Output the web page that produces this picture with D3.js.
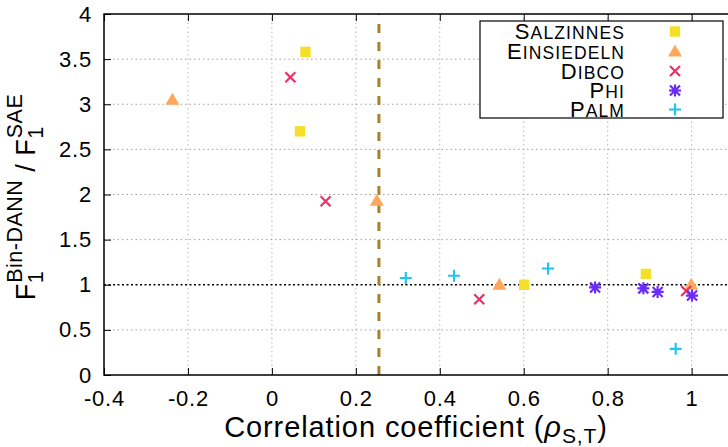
<!DOCTYPE html>
<html>
<head>
<meta charset="utf-8">
<script src="https://cdn.jsdelivr.net/npm/d3@7"></script>
<style>
  body { margin: 0; background: #fff; }
  svg { display: block; font-family: "Liberation Sans", Arial, sans-serif; }
</style>
</head>
<body>
<svg id="chart" width="728" height="447"></svg>
<script>
// values
const xTicks = [-0.4, -0.2, 0, 0.2, 0.4, 0.6, 0.8, 1];
const yTicks = [0, 0.5, 1, 1.5, 2, 2.5, 3, 3.5, 4];

const salzinnesX = [0.080, 0.067, 0.601, 0.891];
const salzinnesY = [3.58, 2.70, 1.00, 1.12];
const einsiedelnX = [-0.237, 0.250, 0.542, 0.999];
const einsiedelnY = [3.05, 1.93, 1.00, 1.00];
const dibcoX = [0.044, 0.128, 0.494, 0.987];
const dibcoY = [3.30, 1.925, 0.84, 0.93];
const phiX = [0.770, 0.885, 0.919, 1.001];
const phiY = [0.97, 0.96, 0.92, 0.88];
const palmX = [0.319, 0.434, 0.658, 0.962];
const palmY = [1.075, 1.10, 1.18, 0.29];

const thresholdX = 0.255;
const refY = 1;

const series = [
  { name: "Salzinnes", xs: salzinnesX, ys: salzinnesY, color: "#f4e02a", shape: "square" },
  { name: "Einsiedeln", xs: einsiedelnX, ys: einsiedelnY, color: "#ffa75a", shape: "triangle" },
  { name: "Dibco", xs: dibcoX, ys: dibcoY, color: "#e8326a", shape: "cross" },
  { name: "Phi", xs: phiX, ys: phiY, color: "#6a2af8", shape: "star" },
  { name: "Palm", xs: palmX, ys: palmY, color: "#22c4f2", shape: "plus" }
];

const x = d3.scaleLinear().domain([-0.4, 1.1]).range([104, 733.6]);
const y = d3.scaleLinear().domain([0, 4]).range([375, 14]);

const svg = d3.select("#chart");

// grid
svg.append("g")
  .selectAll("line")
  .data(xTicks.slice(1))
  .join("line")
  .attr("x1", d => x(d)).attr("x2", d => x(d))
  .attr("y1", y(0)).attr("y2", y(4))
  .attr("stroke", "#b8b8b8").attr("stroke-width", 1)
  .attr("stroke-dasharray", "1.5,3");

svg.append("g")
  .selectAll("line")
  .data(yTicks.slice(1, -1).filter(d => d !== refY))
  .join("line")
  .attr("x1", x(-0.4)).attr("x2", x(1.1))
  .attr("y1", d => y(d)).attr("y2", d => y(d))
  .attr("stroke", "#a0a0a0").attr("stroke-width", 1)
  .attr("stroke-dasharray", "1.5,3");

// y = 1 reference line
svg.append("line")
  .attr("x1", x(-0.4)).attr("x2", x(1.1))
  .attr("y1", y(refY)).attr("y2", y(refY))
  .attr("stroke", "#000").attr("stroke-width", 1.5)
  .attr("stroke-dasharray", "2,2.5");

// threshold line
svg.append("line")
  .attr("x1", x(thresholdX)).attr("x2", x(thresholdX))
  .attr("y1", y(0)).attr("y2", y(4))
  .attr("stroke", "#a4822a").attr("stroke-width", 3)
  .attr("stroke-dasharray", "9,9");

// axes (ticks inward, mirrored)
const xAxisBottom = svg.append("g")
  .attr("transform", `translate(0,${y(0)})`)
  .call(d3.axisBottom(x).tickValues(xTicks).tickSize(-7).tickPadding(15)
    .tickFormat(d => d3.format("")(d).replace("−", "-")));
xAxisBottom.select(".domain").remove();

const xAxisTop = svg.append("g")
  .attr("transform", `translate(0,${y(4)})`)
  .call(d3.axisTop(x).tickValues(xTicks).tickSize(-7).tickFormat(""));
xAxisTop.select(".domain").remove();

const yAxisLeft = svg.append("g")
  .attr("transform", `translate(${x(-0.4)},0)`)
  .call(d3.axisLeft(y).tickValues(yTicks).tickSize(-7).tickPadding(12)
    .tickFormat(d3.format("")));
yAxisLeft.select(".domain").remove();

svg.selectAll(".tick text")
  .attr("font-family", "Liberation Sans, Arial, sans-serif")
  .attr("font-size", 22)
  .attr("letter-spacing", 0.8)
  .attr("fill", "#000");
svg.selectAll(".tick line").attr("stroke", "#000");

// border
svg.append("rect")
  .attr("x", x(-0.4)).attr("y", y(4))
  .attr("width", x(1.1) - x(-0.4)).attr("height", y(0) - y(4))
  .attr("fill", "none").attr("stroke", "#000").attr("stroke-width", 1.5);

// markers
function drawMarker(g, shape, color) {
  if (shape === "square") {
    g.append("rect").attr("x", -5.2).attr("y", -5.2).attr("width", 10.4).attr("height", 10.4)
      .attr("fill", color);
  } else if (shape === "triangle") {
    g.append("path").attr("d", "M0,-7L7,5L-7,5Z").attr("fill", color);
  } else {
    const r = shape === "plus" ? 6 : 5;
    let d = "";
    if (shape === "cross" || shape === "star") d += `M${-r},${-r}L${r},${r}M${-r},${r}L${r},${-r}`;
    if (shape === "plus" || shape === "star") {
      const p = shape === "star" ? r + 1 : r;
      d += `M${-p},0L${p},0M0,${-p}L0,${p}`;
    }
    g.append("path").attr("d", d).attr("stroke", color).attr("stroke-width", 2.2).attr("fill", "none");
  }
}

series.forEach(s => {
  const pts = s.xs.map((v, i) => [v, s.ys[i]]);
  svg.append("g")
    .selectAll("g")
    .data(pts)
    .join("g")
    .attr("transform", d => `translate(${x(d[0])},${y(d[1])})`)
    .each(function () { drawMarker(d3.select(this), s.shape, s.color); });
});

// legend
const legend = svg.append("g");
legend.append("rect")
  .attr("x", 480).attr("y", 21).attr("width", 243).attr("height", 97)
  .attr("fill", "#fff").attr("stroke", "#000").attr("stroke-width", 1.2);

const legendBase = [39, 59, 78.5, 98, 117];
series.forEach((s, i) => {
  const ly = legendBase[i];
  const t = legend.append("text")
    .attr("x", 625).attr("y", ly)
    .attr("text-anchor", "end")
    .attr("letter-spacing", 1.1)
    .attr("font-size", 22);
  // small caps: first letter full size, the rest upper case and smaller
  t.append("tspan").text(s.name[0]);
  t.append("tspan").attr("font-size", 17.5).text(s.name.slice(1).toUpperCase());
  const g = legend.append("g").attr("transform", `translate(675,${ly - 7.5})`);
  drawMarker(g, s.shape, s.color);
});

// axis titles
const xt = svg.append("text")
  .attr("x", 416).attr("y", 437)
  .attr("text-anchor", "middle")
  .attr("letter-spacing", 0.9)
  .attr("font-size", 29);
xt.append("tspan").text("Correlation coefficient (");
xt.append("tspan").attr("font-style", "italic").text("ρ");
xt.append("tspan").attr("font-size", 21).attr("dy", 5.5).text("S,T");
xt.append("tspan").attr("dy", -5.5).text(")");

const yt = svg.append("text")
  .attr("transform", "translate(35,197) rotate(-90)")
  .attr("text-anchor", "middle")
  .attr("letter-spacing", 0.5)
  .attr("font-size", 27);
yt.append("tspan").text("F");
yt.append("tspan").attr("font-size", 21.5).attr("dy", 8).text("1");
yt.append("tspan").attr("font-size", 21.5).attr("dx", -12).attr("dy", -21).text("Bin-DANN");
yt.append("tspan").attr("dy", 13).text(" / F");
yt.append("tspan").attr("font-size", 21.5).attr("dy", 8).text("1");
yt.append("tspan").attr("font-size", 21.5).attr("dx", -12).attr("dy", -21).text("SAE");
</script>
</body>
</html>
